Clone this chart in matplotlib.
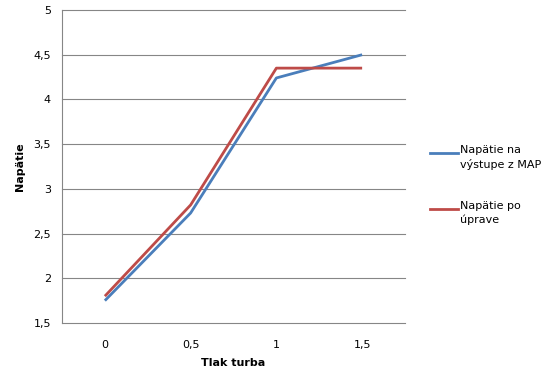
import matplotlib
matplotlib.use("Agg")
import matplotlib.pyplot as plt
from matplotlib.lines import Line2D

tlak = ["0", "0,5", "1", "1,5"]
napatie_map = [1.75, 2.73, 4.24, 4.5]
napatie_uprava = [1.80, 2.82, 4.35, 4.35]
y_ticks = [1.5, 2, 2.5, 3, 3.5, 4, 4.5, 5]
y_labels = ["1,5", "2", "2,5", "3", "3,5", "4", "4,5", "5"]
series_names = ["Napätie na\nvýstupe z MAP", "Napätie po\núprave"]
colors = ["#4A7EBB", "#BE4B48"]

plt.rcParams['font.family'] = ['DejaVu Sans']
fig = plt.figure(figsize=(5.48, 3.75), dpi=100)
ax = fig.add_axes([62/548, 52/375, 343/548, 313/375])

x = range(len(tlak))
for vals, c in zip([napatie_map, napatie_uprava], colors):
    ax.plot(x, vals, color=c, linewidth=2.0, solid_capstyle="butt")

ax.set_xlim(-0.5, 3.5)
ax.set_ylim(1.5, 5)
ax.set_xticks(list(x))
ax.set_xticklabels(tlak)
ax.set_yticks(y_ticks)
ax.set_yticklabels(y_labels)
ax.yaxis.grid(True, color="#868686", linewidth=0.8)
for gl in ax.get_ygridlines():
    gl.set_clip_on(False)
ax.set_axisbelow(True)
for s in ["top", "right", "bottom"]:
    ax.spines[s].set_visible(False)
ax.spines["left"].set_color("#868686")
ax.tick_params(axis="both", length=0, labelsize=8, pad=8)
ax.tick_params(axis="x", pad=12)

ax.set_xlabel("Tlak turba", fontsize=8, fontweight="bold", labelpad=6)
ax.set_ylabel("Napätie", fontsize=8, fontweight="bold", labelpad=6)

# legend drawn by hand: handle next to the first line of each label
leg_y = [153, 209]
for name, c, yy in zip(series_names, colors, leg_y):
    yf = 1 - yy / 375
    fig.add_artist(Line2D([430/548, 458/548], [yf, yf], color=c, linewidth=2.0,
                          transform=fig.transFigure))
    fig.text(460/548, yf + 8/375, name, fontsize=8, va="top", ha="left",
             linespacing=1.45)

fig.savefig("out.png", dpi=100)
